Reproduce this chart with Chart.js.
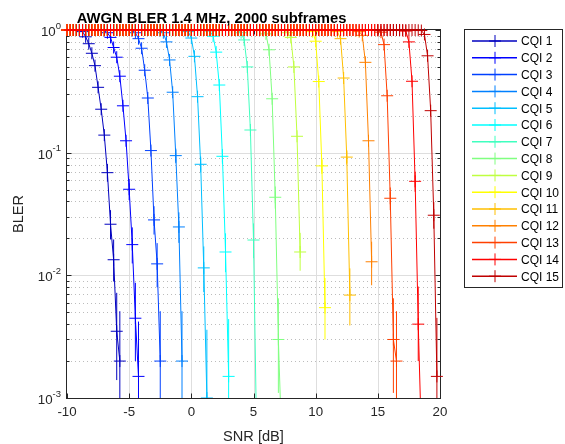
<!DOCTYPE html>
<html><head><meta charset="utf-8">
<script src="https://cdn.jsdelivr.net/npm/chart.js@4.4.0/dist/chart.umd.min.js"></script>
<style>html,body{margin:0;padding:0;background:#fff;}#wrap{width:565px;height:444px;}</style>
</head><body><div id="wrap"><canvas id="c" width="565" height="444"></canvas></div>
<script>
// ---------- data ----------
const snrDb = [-10,-9.75,-9.5,-9.25,-9,-8.75,-8.5,-8.25,-8,-7.75,-7.5,-7.25,-7,-6.75,-6.5,-6.25,-6,-5.75,-5.5,-5.25,
 -5,-4.75,-4.5,-4.25,-4,-3.75,-3.5,-3.25,-3,-2.75,-2.5,-2.25,-2,-1.75,-1.5,-1.25,-1,-0.75,-0.5,-0.25,
 0,0.25,0.5,0.75,1,1.25,1.5,1.75,2,2.25,2.5,2.75,3,3.25,3.5,3.75,4,4.25,4.5,4.75,
 5,5.25,5.5,5.75,6,6.25,6.5,6.75,7,7.25,7.5,7.75,8,8.25,8.5,8.75,9,9.25,9.5,9.75,
 10,10.25,10.5,10.75,11,11.25,11.5,11.75,12,12.25,12.5,12.75,13,13.25,13.5,13.75,14,14.25,14.5,14.75,
 15,15.25,15.5,15.75,16,16.25,16.5,16.75,17,17.25,17.5,17.75,18,18.25,18.5,18.75,19,19.25,19.5,19.75,20];

const seriesLabels = ['CQI 1','CQI 2','CQI 3','CQI 4','CQI 5','CQI 6','CQI 7','CQI 8','CQI 9','CQI 10','CQI 11','CQI 12','CQI 13','CQI 14','CQI 15'];

// SNR where each curve starts (BLER = 1 plateau) and where its waterfall values begin
const plateauStart   = [-10,-10,-10,-10,-10,-10,-10,-10,-10,-10,-10,-10,-10,-10,15];
const waterfallStart = [-9,-7,-4.75,-2.5,-0.5,1.5,3.75,5.75,7.5,9.5,11.5,13.25,15,17,18.25];

const cqi1Bler  = [0.99,0.97,0.88,0.773,0.646,0.512,0.341,0.226,0.139,0.0687,0.0261,0.0134,0.0035,0.002];
const cqi2Bler  = [0.99,0.95,0.87,0.72,0.60,0.42,0.241,0.125,0.0503,0.0178,0.00447,0.0015];
const cqi3Bler  = [0.99,0.95,0.85,0.71,0.47,0.279,0.104,0.0283,0.0124,0.002];
const cqi4Bler  = [0.99,0.95,0.80,0.57,0.311,0.0946,0.0248,0.002];
const cqi5Bler  = [0.99,0.97,0.86,0.61,0.286,0.0804,0.0115,0.001];
const cqi6Bler  = [0.98,0.89,0.66,0.356,0.0934,0.0155,0.0015];
const cqi7Bler  = [0.99,0.95,0.83,0.50,0.153,0.0194,0.0005];
const cqi8Bler  = [0.99,0.93,0.69,0.275,0.0433,0.003,0.0005];
const cqi9Bler  = [0.99,0.95,0.87,0.50,0.136,0.0155];
const cqi10Bler = [0.99,0.97,0.81,0.38,0.078,0.00545];
const cqi11Bler = [0.99,0.97,0.85,0.406,0.092,0.0069];
const cqi12Bler = [0.99,0.97,0.905,0.545,0.125,0.0129];
const cqi13Bler = [0.99,0.96,0.76,0.291,0.0425,0.003,0.002];
const cqi14Bler = [0.99,0.98,0.80,0.382,0.0584,0.004,0.0005];
const cqi15Bler = [0.995,0.99,0.92,0.616,0.22,0.0309,0.0015];

// error bars: [snr, lower, upper]
const cqi1Err  = [[-6.75,0.058,0.081],[-6.5,0.0196,0.034],[-6.25,0.0089,0.0196],[-6,0.0014,0.0072],[-5.75,0.00055,0.0051]];
const cqi2Err  = [[-5,0.041,0.061],[-4.75,0.0125,0.0246],[-4.5,0.002,0.0087],[-4.25,0.0003,0.0042]];
const cqi3Err  = [[-3,0.0215,0.0366],[-2.75,0.008,0.0183],[-2.5,0.00055,0.0051]];
const cqi4Err  = [[-1.25,0.082,0.108],[-1,0.0184,0.0326],[-0.75,0.00055,0.0051]];
const cqi5Err  = [[0.75,0.069,0.093],[1,0.0073,0.0172],[1.25,0.00012,0.0036]];
const cqi6Err  = [[2.5,0.081,0.107],[2.75,0.0106,0.022],[3,0.0003,0.0044]];
const cqi7Err  = [[5,0.0138,0.0265]];
const cqi8Err  = [[6.75,0.035,0.053],[7,0.0011,0.0065]];
const cqi9Err  = [[8.75,0.0109,0.0222]];
const cqi10Err = [[10.5,0.067,0.09],[10.75,0.003,0.0095]];
const cqi11Err = [[12.5,0.08,0.105],[12.75,0.0039,0.0114]];
const cqi12Err = [[14.5,0.0083,0.0188]];
const cqi13Err = [[16,0.034,0.052],[16.25,0.0011,0.0065],[16.5,0.00055,0.0051]];
const cqi14Err = [[18,0.048,0.07],[18.25,0.002,0.0081]];
const cqi15Err = [[19.5,0.024,0.0395],[19.75,0.0003,0.0045]];

const xTickValues = [-10,-5,0,5,10,15,20];
const xTickLabels = ['-10','-5','0','5','10','15','20'];
const yDecadeValues = [1,0.1,0.01,0.001];
const yDecadeExponents = ['0','-1','-2','-3'];
const yMinorMultipliers = [2,3,4,5,6,7,8,9];

// ---------- styles ----------
const colors = ['rgb(0,0,191)','rgb(0,0,255)','rgb(0,64,255)','rgb(0,128,255)','rgb(0,191,255)','rgb(0,255,255)',
 'rgb(64,255,191)','rgb(128,255,128)','rgb(191,255,64)','rgb(255,255,0)','rgb(255,191,0)','rgb(255,128,0)',
 'rgb(255,64,0)','rgb(255,0,0)','rgb(191,0,0)'];
const FONT = '"Liberation Sans", Arial, Helvetica, sans-serif';
const AXC = '#262626';

const blerSeries = [cqi1Bler,cqi2Bler,cqi3Bler,cqi4Bler,cqi5Bler,cqi6Bler,cqi7Bler,cqi8Bler,cqi9Bler,cqi10Bler,cqi11Bler,cqi12Bler,cqi13Bler,cqi14Bler,cqi15Bler];
const errSeries = [cqi1Err,cqi2Err,cqi3Err,cqi4Err,cqi5Err,cqi6Err,cqi7Err,cqi8Err,cqi9Err,cqi10Err,cqi11Err,cqi12Err,cqi13Err,cqi14Err,cqi15Err];

function seriesPoints(k) {
  const pts = [];
  const iP = snrDb.indexOf(plateauStart[k]);
  const iW = snrDb.indexOf(waterfallStart[k]);
  const vals = blerSeries[k];
  for (let i = iP; i < snrDb.length; i++) {
    if (i < iW) pts.push({x: snrDb[i], y: 1});
    else if (i - iW < vals.length) pts.push({x: snrDb[i], y: vals[i - iW]});
  }
  return pts;
}

const datasets = seriesLabels.map((lab, k) => ({
  label: lab,
  data: seriesPoints(k),
  borderColor: colors[k],
  backgroundColor: colors[k],
  borderWidth: 1,
  pointStyle: 'cross',
  pointRadius: 6,
  pointBorderWidth: 1,
  pointBorderColor: colors[k],
  pointHoverRadius: 6,
  tension: 0,
  order: seriesLabels.length - 1 - k,
  clip: {left: 8, top: 8, right: 8, bottom: 0}
}));

const crisp = v => Math.round(v) + 0.5;

const framePlugin = {
  id: 'frame',
  beforeDatasetsDraw(chart) {
    const {ctx, chartArea: a, scales: {x, y}} = chart;
    ctx.save();
    ctx.lineWidth = 1;
    ctx.strokeStyle = '#bcbcbc';
    ctx.setLineDash([1, 3]);
    for (const d of yDecadeValues.slice(1)) {
      for (const m of yMinorMultipliers) {
        const py = crisp(y.getPixelForValue(d * m));
        ctx.beginPath(); ctx.moveTo(a.left, py); ctx.lineTo(a.right, py); ctx.stroke();
      }
    }
    ctx.setLineDash([]);
    ctx.strokeStyle = '#dedede';
    for (const v of yDecadeValues.slice(1, 3)) {
      const py = crisp(y.getPixelForValue(v));
      ctx.beginPath(); ctx.moveTo(a.left, py); ctx.lineTo(a.right, py); ctx.stroke();
    }
    for (const v of xTickValues.slice(1, -1)) {
      const px = crisp(x.getPixelForValue(v));
      ctx.beginPath(); ctx.moveTo(px, a.top); ctx.lineTo(px, a.bottom); ctx.stroke();
    }
    ctx.strokeStyle = AXC;
    ctx.strokeRect(crisp(a.left) - 1, crisp(a.top) - 1, Math.round(a.right - a.left) + 1, Math.round(a.bottom - a.top) + 1);
    const L = Math.round(a.left) - 0.5, R = Math.round(a.right) + 0.5, T = Math.round(a.top) - 0.5, B = Math.round(a.bottom) + 0.5;
    ctx.beginPath();
    for (const v of xTickValues) {
      const px = crisp(x.getPixelForValue(v));
      ctx.moveTo(px, B); ctx.lineTo(px, B - 5);
      ctx.moveTo(px, T); ctx.lineTo(px, T + 5);
    }
    for (const v of yDecadeValues) {
      const py = crisp(y.getPixelForValue(v));
      ctx.moveTo(L, py); ctx.lineTo(L + 5, py);
      ctx.moveTo(R, py); ctx.lineTo(R - 5, py);
    }
    for (const d of yDecadeValues.slice(1)) for (const m of yMinorMultipliers) {
      const py = crisp(y.getPixelForValue(d * m));
      ctx.moveTo(L, py); ctx.lineTo(L + 3, py);
      ctx.moveTo(R, py); ctx.lineTo(R - 3, py);
    }
    ctx.stroke();
    ctx.restore();
  }
};

const errorBarPlugin = {
  id: 'errbars',
  afterDatasetsDraw(chart) {
    const {ctx, chartArea: a, scales: {x, y}} = chart;
    ctx.save();
    ctx.beginPath(); ctx.rect(a.left - 8, a.top - 8, a.right - a.left + 16, a.bottom - a.top + 8); ctx.clip();
    ctx.lineWidth = 1;
    for (let k = 0; k < errSeries.length; k++) {
      ctx.strokeStyle = colors[k];
      for (const [s, lo, hi] of errSeries[k]) {
        const px = x.getPixelForValue(s);
        ctx.beginPath(); ctx.moveTo(px, y.getPixelForValue(lo)); ctx.lineTo(px, y.getPixelForValue(hi)); ctx.stroke();
      }
    }
    ctx.restore();
  }
};

const textPlugin = {
  id: 'texts',
  afterDraw(chart) {
    const {ctx, chartArea: a, scales: {x, y}} = chart;
    ctx.save();
    ctx.fillStyle = AXC;
    ctx.font = '13.3px ' + FONT;
    ctx.textAlign = 'center'; ctx.textBaseline = 'alphabetic';
    xTickValues.forEach((v, i) => ctx.fillText(xTickLabels[i], x.getPixelForValue(v), 416));
    yDecadeValues.forEach((v, i) => {
      const py = y.getPixelForValue(v);
      ctx.font = '9.5px ' + FONT;
      const ew = ctx.measureText(yDecadeExponents[i]).width;
      ctx.textAlign = 'left';
      const right = a.left - 6;
      ctx.fillText(yDecadeExponents[i], right - ew, py - 1.5);
      ctx.font = '13.3px ' + FONT;
      ctx.textAlign = 'right';
      ctx.fillText('10', right - ew, py + 6);
    });
    ctx.font = '14.6px ' + FONT;
    ctx.textAlign = 'center';
    ctx.fillText('SNR [dB]', (a.left + a.right) / 2, 441);
    ctx.save();
    ctx.translate(23, (a.top + a.bottom) / 2);
    ctx.rotate(-Math.PI / 2);
    ctx.fillText('BLER', 0, 0);
    ctx.restore();
    ctx.fillStyle = '#000';
    ctx.font = 'bold 14.8px ' + FONT;
    ctx.textAlign = 'center';
    ctx.fillText('AWGN BLER 1.4 MHz, 2000 subframes', 211.5, 23);
    // legend
    const bx = 464.5, by = 29.5, bw = 98, bh = 258;
    ctx.fillStyle = '#fff';
    ctx.fillRect(bx, by, bw, bh);
    ctx.strokeStyle = AXC; ctx.lineWidth = 1;
    ctx.strokeRect(bx, by, bw, bh);
    ctx.font = '12px ' + FONT;
    ctx.textAlign = 'left'; ctx.textBaseline = 'middle';
    seriesLabels.forEach((lab, k) => {
      const ly = 41 + k * 16.8;
      ctx.strokeStyle = colors[k];
      ctx.lineWidth = 1.5;
      ctx.beginPath(); ctx.moveTo(472, ly); ctx.lineTo(517, ly); ctx.stroke();
      ctx.lineWidth = 1;
      ctx.beginPath(); ctx.moveTo(489, ly); ctx.lineTo(501, ly); ctx.moveTo(495, ly - 6); ctx.lineTo(495, ly + 6); ctx.stroke();
      ctx.fillStyle = '#000';
      ctx.fillText(lab, 521, ly + 1);
    });
    ctx.restore();
  }
};

new Chart(document.getElementById('c'), {
  type: 'line',
  data: {datasets},
  options: {
    responsive: false,
    animation: false,
    events: [],
    devicePixelRatio: 1,
    layout: {padding: {left: 67, top: 30, right: 125, bottom: 46}},
    scales: {
      x: {type: 'linear', min: -10, max: 20, display: false},
      y: {type: 'logarithmic', min: 0.001, max: 1, display: false}
    },
    plugins: {legend: {display: false}, tooltip: {enabled: false}, title: {display: false}}
  },
  plugins: [framePlugin, errorBarPlugin, textPlugin]
});
</script>
</body></html>
